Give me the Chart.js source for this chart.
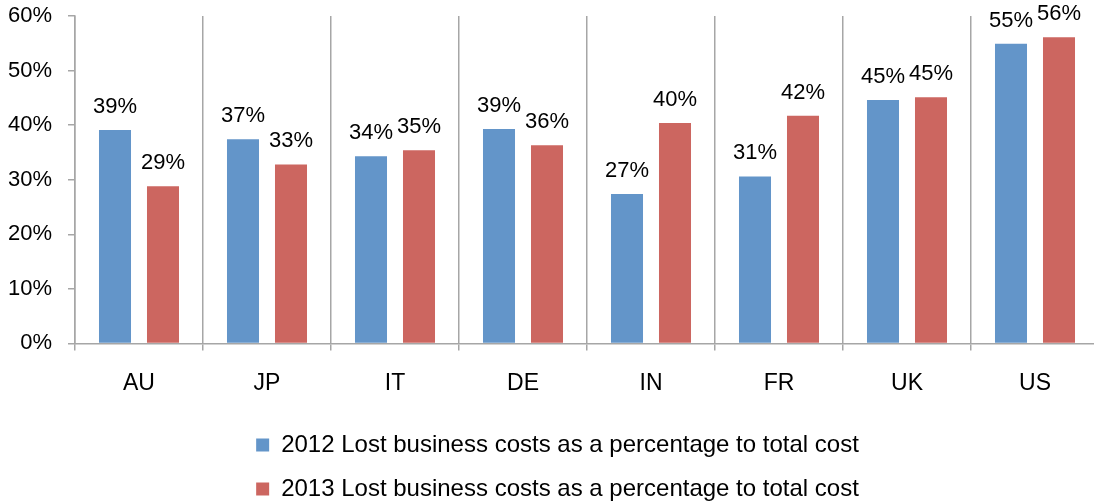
<!DOCTYPE html>
<html>
<head>
<meta charset="utf-8">
<script src="https://cdn.jsdelivr.net/npm/chart.js"></script>
<style>
  html, body { margin: 0; padding: 0; background: #fff; overflow: hidden; }
  #wrap { width: 1099px; height: 503px; }
</style>
</head>
<body>
<div id="wrap"><canvas id="barChart"></canvas></div>
<script>
var paises = ['AU', 'JP', 'IT', 'DE', 'IN', 'FR', 'UK', 'US'];
var costes2012 = [39.1, 37.4, 34.3, 39.3, 27.4, 30.6, 44.6, 54.9];
var costes2013 = [28.8, 32.8, 35.4, 36.3, 40.4, 41.7, 45.1, 56.1];
var ticksY = [0, 10, 20, 30, 40, 50, 60];

var fuente = "'Liberation Sans', Arial, sans-serif";

// etiquetas encima de cada barra
var etiquetasBarras = {
    id: 'etiquetasBarras',
    afterDatasetsDraw: function (chart) {
        var ctx = chart.ctx;
        ctx.save();
        ctx.font = '22px ' + fuente;
        ctx.fillStyle = '#000';
        ctx.textAlign = 'center';
        ctx.textBaseline = 'bottom';
        chart.data.datasets.forEach(function (ds, i) {
            chart.getDatasetMeta(i).data.forEach(function (bar, j) {
                ctx.fillText(Math.round(ds.data[j]) + '%', bar.x, bar.y - 12);
            });
        });
        ctx.restore();
    }
};

// mover un poco la leyenda a la derecha
var moverLeyenda = {
    id: 'moverLeyenda',
    afterLayout: function (chart) {
        if (chart.legend) {
            chart.legend.left += 8;
            chart.legend.right += 8;
        }
    }
};

function cargarGrafico() {
    var barCanvas = document.getElementById('barChart').getContext('2d');
    var barData = {
        labels: paises,
        datasets: [
            {
                label: '2012 Lost business costs as a percentage to total cost',
                data: costes2012,
                backgroundColor: '#6395C9'
            },
            {
                label: '2013 Lost business costs as a percentage to total cost',
                data: costes2013,
                backgroundColor: '#CC6660'
            }
        ]
    };
    var barOptions = {
        maintainAspectRatio: false,
        responsive: true,
        animation: false,
        layout: { padding: { top: 16, right: 0, left: 0, bottom: -8 } },
        categoryPercentage: 0.75,
        barPercentage: 0.667,
        scales: {
            x: {
                afterFit: function (axis) { axis.height = 69.6; },
                grid: {
                    offset: true,
                    color: '#A6A6A6',
                    lineWidth: 1.5,
                    tickLength: 7
                },
                border: { color: '#A6A6A6', width: 1.5 },
                ticks: {
                    color: '#000',
                    font: { family: fuente, size: 23 },
                    padding: 19
                }
            },
            y: {
                min: 0,
                max: 60,
                afterBuildTicks: function (axis) {
                    axis.ticks = ticksY.map(function (v) { return { value: v }; });
                },
                afterFit: function (axis) {
                    axis.width = 75;
                    axis.paddingTop = 0;
                    axis.paddingBottom = 0;
                },
                grid: {
                    drawOnChartArea: false,
                    color: '#A6A6A6',
                    lineWidth: 1.5,
                    tickLength: 7
                },
                border: { color: '#A6A6A6', width: 1.5 },
                ticks: {
                    color: '#000',
                    font: { family: fuente, size: 22 },
                    padding: 16,
                    callback: function (v) { return v + '%'; }
                }
            }
        },
        plugins: {
            legend: {
                position: 'bottom',
                labels: {
                    color: '#000',
                    font: { family: fuente, size: 24 },
                    boxWidth: 13,
                    boxHeight: 13,
                    padding: 20
                }
            },
            tooltip: { enabled: false }
        }
    };
    var barChart = new Chart(barCanvas, {
        type: 'bar',
        data: barData,
        options: barOptions,
        plugins: [etiquetasBarras, moverLeyenda]
    });
}

cargarGrafico();
</script>
</body>
</html>
